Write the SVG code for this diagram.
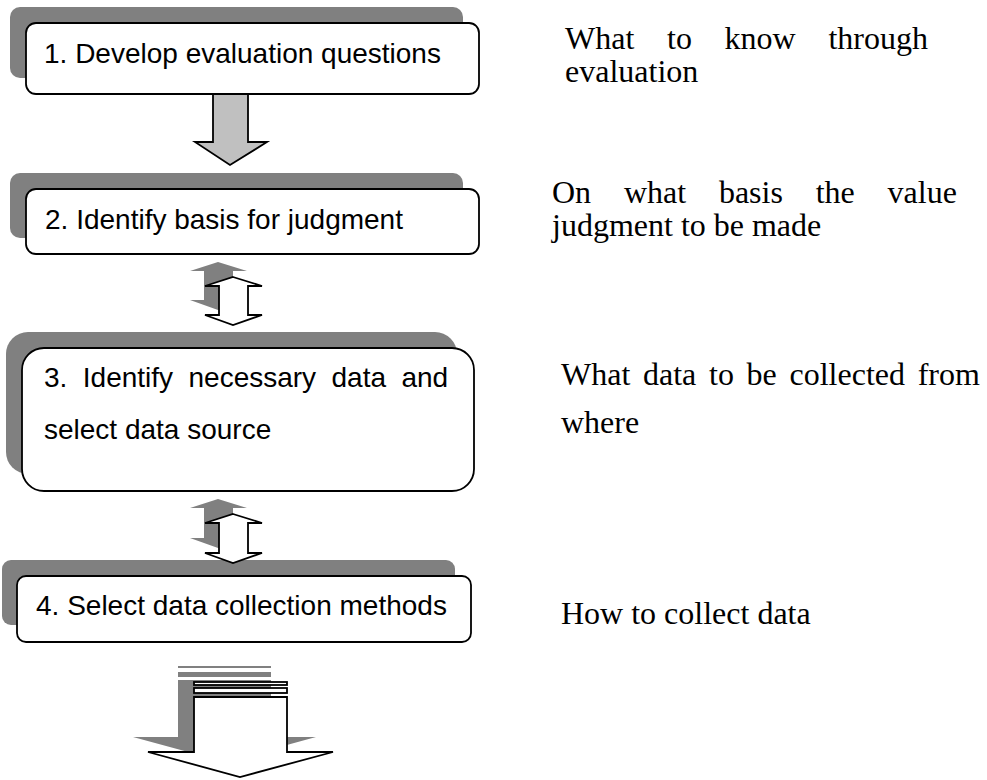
<svg xmlns="http://www.w3.org/2000/svg" width="987" height="780" viewBox="0 0 987 780">
<style>
.shadow{fill:#808080;stroke:none}
.box{fill:#ffffff;stroke:#000000;stroke-width:1.8}
.lbl{font-family:"Liberation Sans",Arial,sans-serif;font-size:28px;fill:#000000}
.note{font-family:"Liberation Serif","Times New Roman",serif;font-size:32px;fill:#000000}
.arrowGray{fill:#c0c0c0;stroke:#000000;stroke-width:1.8;stroke-linejoin:miter}
.arrowWhite{fill:#ffffff;stroke:#000000;stroke-width:1.8;stroke-linejoin:miter}
</style>
<rect width="987" height="780" fill="#ffffff"/>

<g id="node1">
<rect class="shadow" x="10" y="7" width="453" height="71" rx="10"/>
<rect class="box" x="26" y="23" width="453" height="71" rx="10"/>
<text class="lbl" x="44" y="63">1. Develop evaluation questions</text>
</g>

<g id="node2">
<rect class="shadow" x="10" y="173" width="453" height="65" rx="10"/>
<rect class="box" x="26" y="189" width="453" height="65" rx="10"/>
<text class="lbl" x="45" y="229">2. Identify basis for judgment</text>
</g>

<g id="node3">
<rect class="shadow" x="6" y="332" width="451" height="142" rx="22"/>
<rect class="box" x="22" y="348" width="452" height="143" rx="22"/>
<text class="lbl" y="387"><tspan x="44">3.</tspan><tspan x="82.8">Identify</tspan><tspan x="188.5">necessary</tspan><tspan x="331.5">data</tspan><tspan x="401.4">and</tspan></text>
<text class="lbl" x="44" y="439">select data source</text>
</g>

<g id="node4">
<rect class="shadow" x="2" y="560" width="453" height="65" rx="9"/>
<rect class="box" x="17" y="576" width="454" height="66" rx="9"/>
<text class="lbl" x="36" y="615">4. Select data collection methods</text>
</g>

<g id="note1">
<text class="note" y="49"><tspan x="565">What</tspan><tspan x="667">to</tspan><tspan x="724.6">know</tspan><tspan x="828.4">through</tspan></text>
<text class="note" x="565" y="82">evaluation</text>
</g>

<g id="note2">
<text class="note" y="203"><tspan x="552">On</tspan><tspan x="623.9">what</tspan><tspan x="718.9">basis</tspan><tspan x="815.7">the</tspan><tspan x="887.6">value</tspan></text>
<text class="note" x="552" y="236">judgment to be made</text>
</g>

<g id="note3">
<text class="note" y="385"><tspan x="561">What</tspan><tspan x="643">data</tspan><tspan x="709">to</tspan><tspan x="746.6">be</tspan><tspan x="789.5">collected</tspan><tspan x="917.7">from</tspan></text>
<text class="note" x="561" y="433">where</text>
</g>

<g id="note4">
<text class="note" x="561" y="624">How to collect data</text>
</g>

<g id="connectors">
<polygon class="arrowGray" points="213,94 248,94 248,142 267,142 230,165 195,142 213,142"/>

<polygon class="shadow" points="218,262 247,271 233,271 233,300 247,300 218,310 190,300 204,300 204,271 190,271"/>
<polygon class="arrowWhite" points="233,277 262,286 248,286 248,315 262,315 233,325 205,315 219,315 219,286 205,286"/>

<polygon class="shadow" points="218,499 247,508 233,508 233,538 247,538 218,548 190,538 204,538 204,508 190,508"/>
<polygon class="arrowWhite" points="233,514 262,523 248,523 248,553 262,553 233,563 205,553 219,553 219,523 205,523"/>

<rect class="shadow" x="178" y="666" width="93" height="2"/>
<rect class="shadow" x="178" y="672" width="93" height="5"/>
<polygon class="shadow" points="178,680 271,680 271,737 316,737 225,762 133,737 178,737"/>
<rect class="arrowWhite" x="194" y="682" width="93" height="3"/>
<rect class="arrowWhite" x="194" y="688" width="93" height="5"/>
<polygon class="arrowWhite" points="194,697 287,697 287,752 333,752 240,777 148,752 194,752"/>
</g>
</svg>
